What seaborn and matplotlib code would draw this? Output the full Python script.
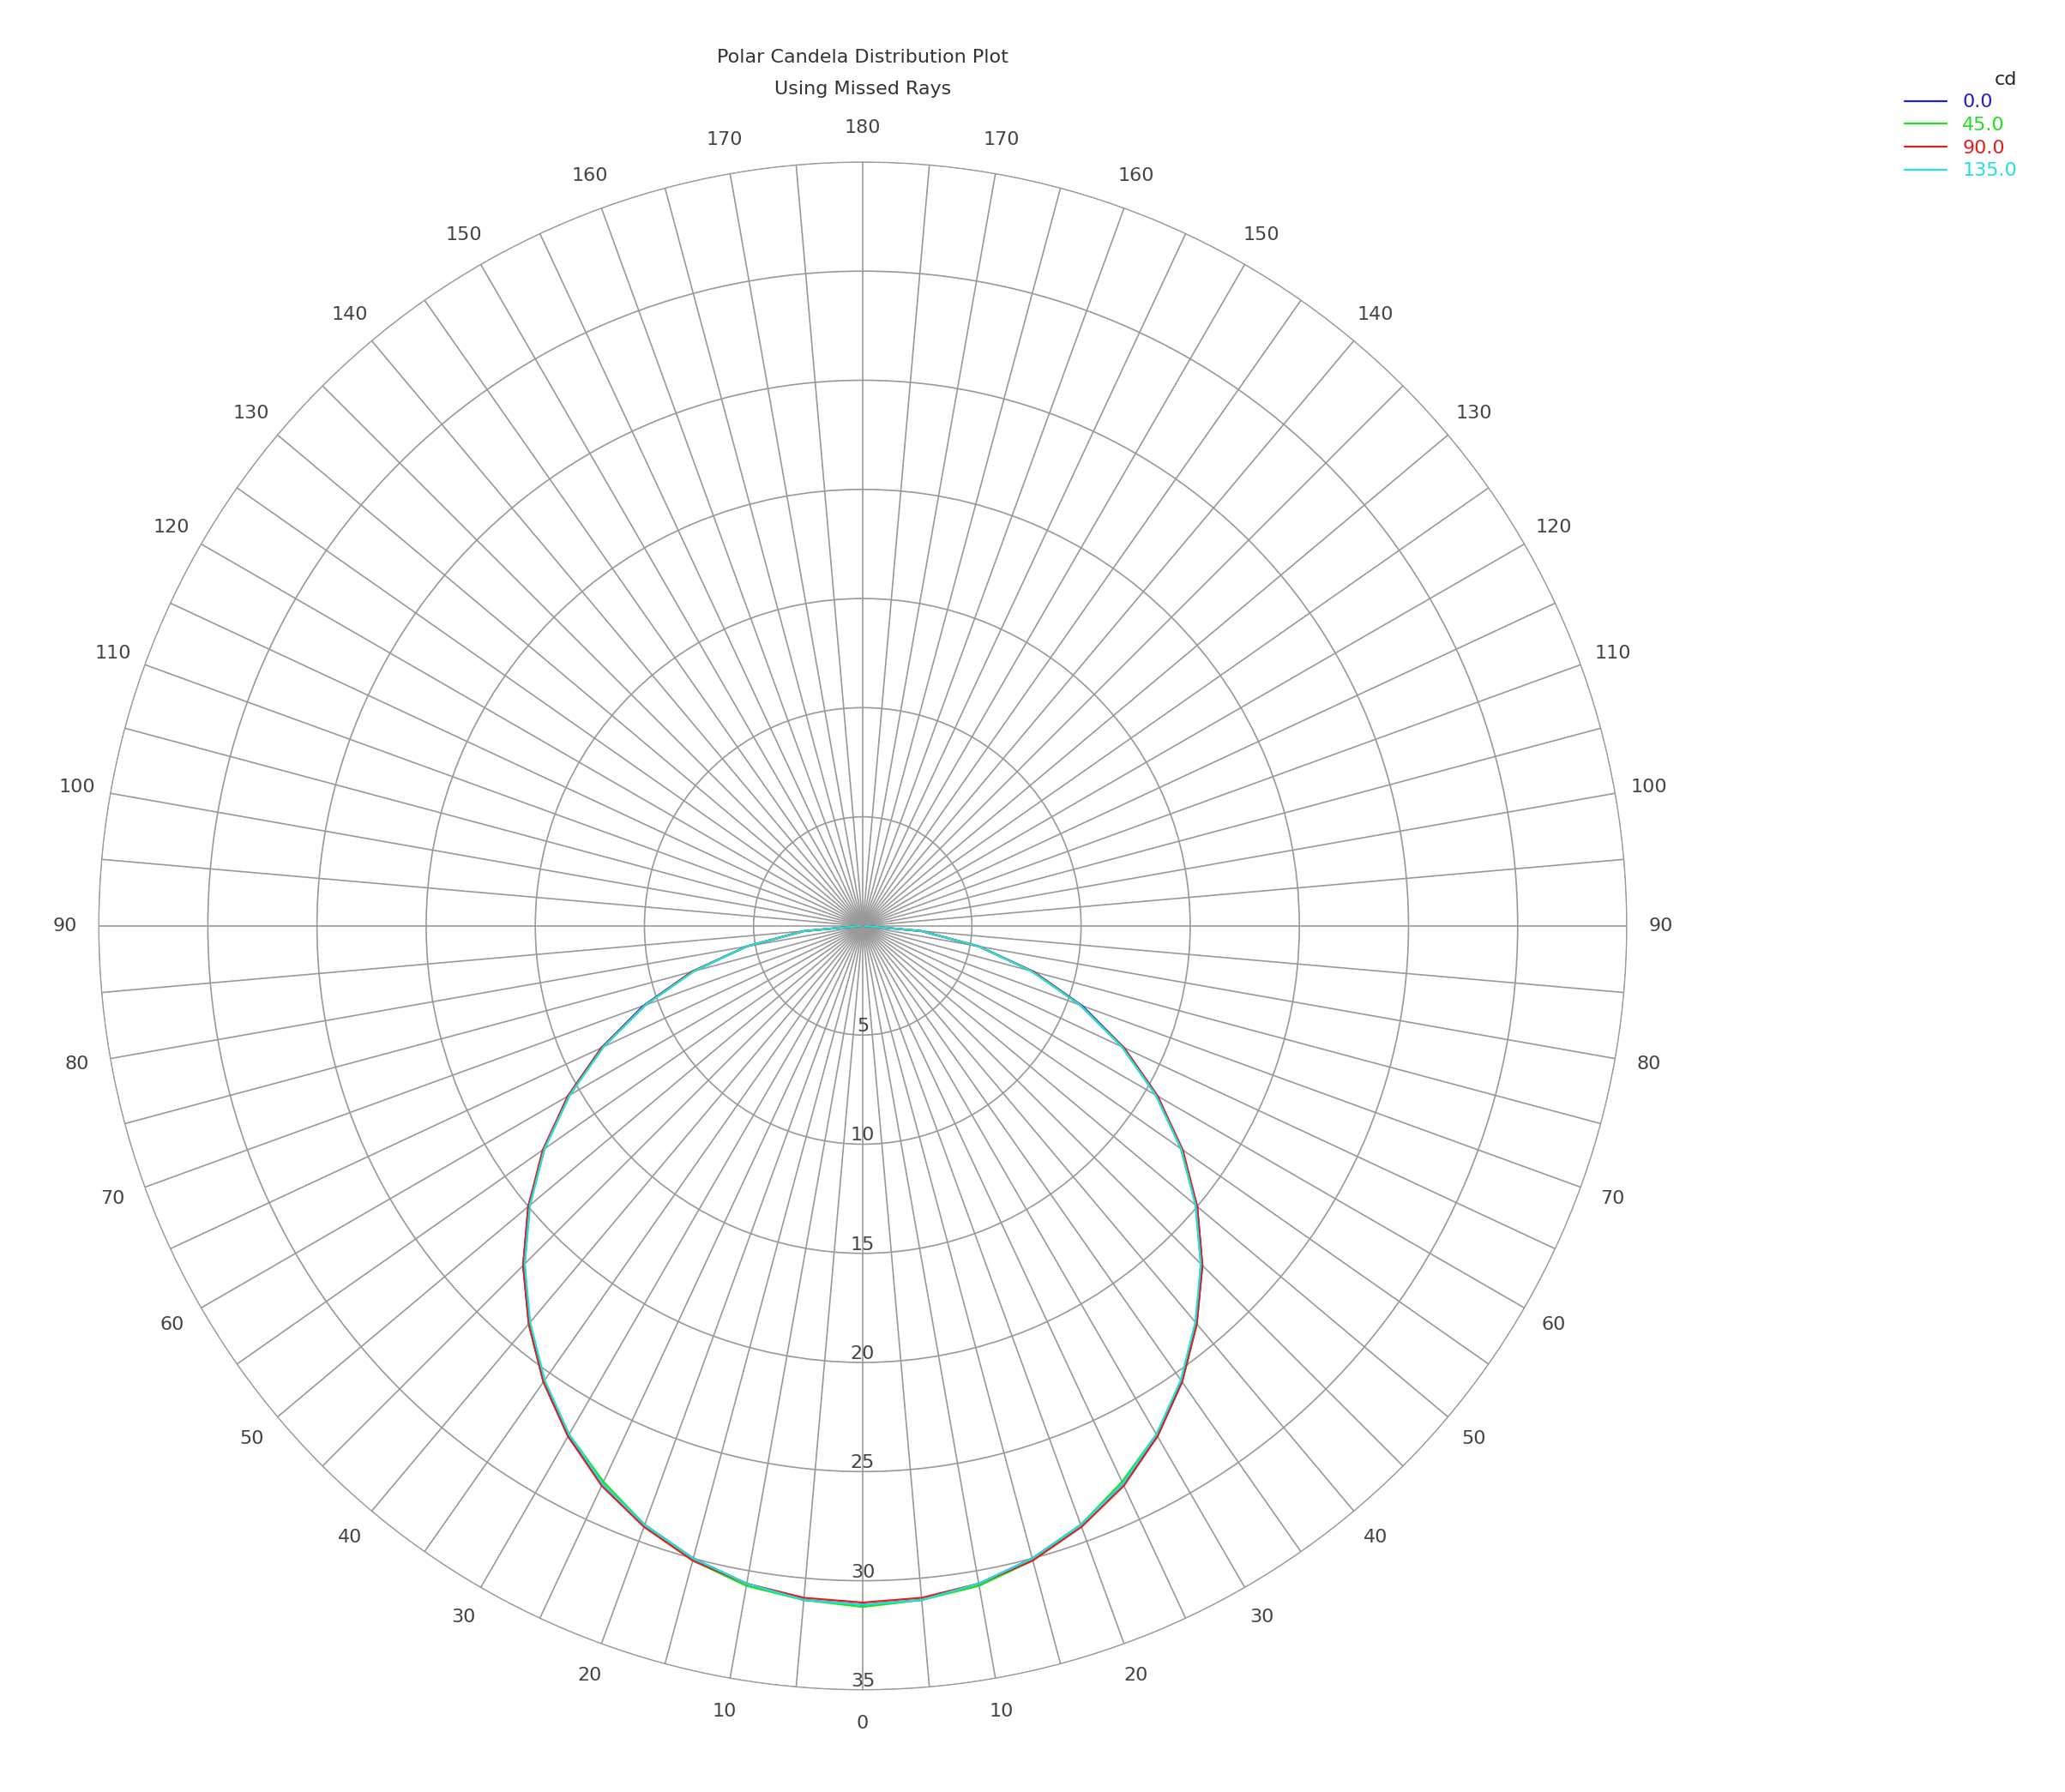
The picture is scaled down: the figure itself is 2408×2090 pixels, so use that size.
"""
Polar candela distribution plot (missed rays)
"""
from matplotlib import pyplot as plt
import numpy as np
import seaborn as sns
import pandas as pd

sns.set_style('white')
plt.rcParams['font.family'] = ['DejaVu Sans']

# vertical angle (deg) and candela for each C-plane
angles = [0, 5, 10, 15, 20, 25, 30, 35, 40, 45, 50, 55, 60, 65, 70, 75, 80, 85, 90]
cd_0 = [31.1, 31.0, 30.6, 30.0, 29.2, 28.2, 27.0, 25.5, 23.8, 22.0, 20.0, 17.8, 15.6, 13.2, 10.7, 8.1, 5.4, 2.7, 0.1]
cd_45 = [31.2, 31.0, 30.7, 30.1, 29.2, 28.1, 26.9, 25.5, 23.8, 21.9, 19.9, 17.8, 15.5, 13.1, 10.6, 8.0, 5.4, 2.7, 0.1]
cd_90 = [31.0, 30.9, 30.6, 30.1, 29.3, 28.3, 27.0, 25.5, 23.8, 22.0, 20.0, 17.9, 15.6, 13.2, 10.6, 8.1, 5.4, 2.7, 0.1]
cd_135 = [31.1, 31.0, 30.6, 30.0, 29.2, 28.2, 26.9, 25.4, 23.7, 21.9, 19.9, 17.8, 15.5, 13.1, 10.6, 8.0, 5.4, 2.7, 0.1]
series = {'0.0': cd_0, '45.0': cd_45, '90.0': cd_90, '135.0': cd_135}
colors = {'0.0': '#2020d0', '45.0': '#20e020', '90.0': '#e02020', '135.0': '#20e0e0'}

rows = []
for name, vals in series.items():
    # mirror to both sides of the 0 line
    for a, v in zip(angles[::-1], vals[::-1]):
        rows.append([name, -a, v])
    for a, v in zip(angles[1:], vals[1:]):
        rows.append([name, a, v])
data = pd.DataFrame(rows, columns=['plane', 'angle', 'cd'])
data['theta'] = np.deg2rad(data['angle'])

fig = plt.figure(figsize=(24.08, 20.9), dpi=100)
ax = fig.add_axes([0.0478, 0.057, 0.740, 0.8526], projection='polar')
ax.set_theta_zero_location('S')
ax.set_ylim(0, 35)

for name in series:
    d = data[data['plane'] == name]
    ax.plot(d['theta'], d['cd'], color=colors[name], lw=1.6, label=name)

grid_deg = np.arange(0, 360, 5)
ax.set_thetagrids(grid_deg, [str(min(a, 360 - a)) if a % 10 == 0 else '' for a in grid_deg],
                  fontsize=16, color='#444444')
ax.tick_params(axis='x', pad=18)
ax.set_rgrids(np.arange(5, 36, 5), [str(r) for r in range(5, 36, 5)], angle=0, fontsize=16, color='#444444')
ax.set_rlabel_position(0)
for t in ax.get_yticklabels():
    t.set_ha('center')
ax.grid(color='#999999', lw=1.2)
ax.spines['polar'].set_color('#999999')

fig.text(0.4178, 0.968, 'Polar Candela Distribution Plot', ha='center', va='center', fontsize=16, color='#333333')
fig.text(0.4178, 0.950, 'Using Missed Rays', ha='center', va='center', fontsize=16, color='#333333')

leg = ax.legend(title='cd', loc='upper right', bbox_to_anchor=(0.985, 0.97),
                bbox_transform=fig.transFigure, frameon=False, fontsize=16,
                title_fontsize=16, handlelength=2.2, labelspacing=0.3)
leg._legend_box.align = 'right'
for t, name in zip(leg.get_texts(), series):
    t.set_color(colors[name])

plt.savefig('out.png', dpi=100)
